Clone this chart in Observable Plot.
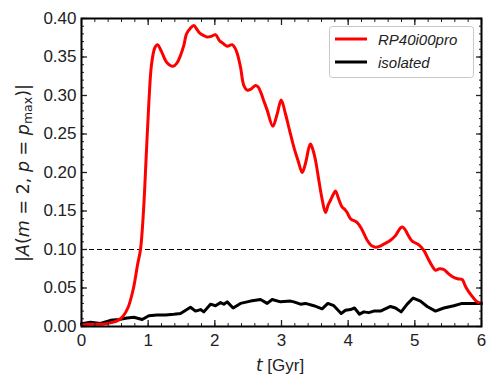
<!DOCTYPE html>
<html>
<head>
<meta charset="utf-8">
<script src="https://cdn.jsdelivr.net/npm/d3@7"></script>
<script src="https://cdn.jsdelivr.net/npm/@observablehq/plot@0.6"></script>
<style>
  html, body { margin: 0; padding: 0; background: white; }
</style>
</head>
<body>
<div id="chart"></div>
<script>
// ---- data ----
const seriesNames = ["RP40i00pro", "isolated"];
const seriesColors = ["#ff0000", "#000000"];

const redT = [0,0.15,0.3,0.45,0.55,0.62,0.7,0.78,0.84,0.885,0.93,0.97,1.01,1.05,1.1,1.14,1.2,1.28,1.375,1.43,1.485,1.535,1.575,1.63,1.685,1.73,1.775,1.83,1.885,1.95,2.01,2.07,2.12,2.185,2.26,2.3,2.335,2.385,2.435,2.485,2.535,2.61,2.65,2.685,2.735,2.785,2.87,2.935,2.995,3.06,3.12,3.185,3.25,3.31,3.36,3.41,3.435,3.47,3.51,3.56,3.61,3.66,3.7,3.735,3.78,3.81,3.86,3.91,3.95,3.985,4.035,4.135,4.2,4.285,4.35,4.41,4.47,4.535,4.6,4.635,4.71,4.785,4.82,4.86,4.91,4.96,5.06,5.135,5.2,5.25,5.31,5.37,5.435,5.5,5.56,5.64,5.71,5.76,5.81,5.88,5.935,6.0];
const redV = [0.002,0.003,0.003,0.005,0.008,0.013,0.025,0.05,0.08,0.10,0.15,0.22,0.29,0.34,0.362,0.366,0.357,0.343,0.338,0.342,0.352,0.365,0.38,0.387,0.391,0.386,0.381,0.378,0.376,0.377,0.379,0.371,0.368,0.364,0.366,0.362,0.355,0.337,0.313,0.307,0.308,0.313,0.311,0.305,0.293,0.281,0.260,0.276,0.294,0.276,0.255,0.233,0.215,0.200,0.212,0.232,0.237,0.230,0.216,0.190,0.165,0.148,0.158,0.164,0.172,0.176,0.165,0.155,0.152,0.148,0.140,0.135,0.127,0.112,0.105,0.103,0.104,0.107,0.110,0.112,0.118,0.128,0.129,0.125,0.117,0.111,0.106,0.099,0.088,0.080,0.073,0.075,0.074,0.069,0.065,0.062,0.061,0.052,0.045,0.037,0.032,0.030];

const blackT = [0,0.135,0.285,0.435,0.56,0.685,0.785,0.91,1.01,1.135,1.26,1.385,1.485,1.635,1.71,1.785,1.835,1.935,2.01,2.085,2.135,2.185,2.275,2.385,2.535,2.685,2.785,2.86,2.985,3.135,3.185,3.285,3.36,3.485,3.61,3.695,3.785,3.895,3.96,4.035,4.095,4.17,4.235,4.31,4.385,4.485,4.635,4.71,4.795,4.885,4.975,5.085,5.185,5.31,5.435,5.585,5.71,5.86,5.96,6.0];
const blackV = [0.0035,0.0056,0.004,0.008,0.009,0.011,0.012,0.009,0.014,0.015,0.015,0.016,0.017,0.025,0.020,0.022,0.019,0.029,0.027,0.031,0.029,0.032,0.024,0.030,0.033,0.035,0.030,0.035,0.032,0.033,0.032,0.029,0.030,0.027,0.023,0.030,0.027,0.017,0.021,0.022,0.024,0.016,0.019,0.018,0.020,0.020,0.026,0.024,0.019,0.029,0.037,0.033,0.026,0.020,0.024,0.027,0.030,0.030,0.030,0.030];

const threshold = 0.10;
const xMajor = [0,1,2,3,4,5,6];
const xMinor = d3.range(0, 6.0001, 0.2).map(d => +d.toFixed(1));
const yMajor = [0,0.05,0.10,0.15,0.20,0.25,0.30,0.35,0.40];
const yMinor = d3.range(0, 0.40001, 0.01).map(d => +d.toFixed(2));

const red = redT.map((t, i) => ({t, v: redV[i]}));
const black = blackT.map((t, i) => ({t, v: blackV[i]}));

const font = "'Liberation Sans', Arial, Helvetica, sans-serif";
const mathFont = "'DejaVu Sans', sans-serif";

// inward ticks on all four sides (drawn outward, then shifted inside by their length)
const tickAxes = [];
for (const [ticks, len, sw] of [[xMinor, 3, 1], [xMajor, 6, 1.3]]) {
  tickAxes.push(Plot.axisX({anchor: "bottom", ticks, tickSize: len, dy: -len, tickFormat: () => "", label: null, strokeWidth: sw}));
  tickAxes.push(Plot.axisX({anchor: "top", ticks, tickSize: len, dy: len, tickFormat: () => "", label: null, strokeWidth: sw}));
}
for (const [ticks, len, sw] of [[yMinor, 3, 1], [yMajor, 6, 1.3]]) {
  tickAxes.push(Plot.axisY({anchor: "left", ticks, tickSize: len, dx: len, tickFormat: () => "", label: null, strokeWidth: sw}));
  tickAxes.push(Plot.axisY({anchor: "right", ticks, tickSize: len, dx: -len, tickFormat: () => "", label: null, strokeWidth: sw}));
}

const chart = Plot.plot({
  width: 498,
  height: 387,
  marginLeft: 81,
  marginRight: 17,
  marginTop: 18,
  marginBottom: 61,
  x: {domain: [0, 6]},
  y: {domain: [0, 0.4]},
  style: {fontFamily: font, fontSize: "17px", color: "#222", background: "white", overflow: "visible"},
  marks: [
    Plot.ruleY([threshold], {stroke: "black", strokeWidth: 1.2, strokeDasharray: "5,3"}),
    Plot.line(black, {x: "t", y: "v", stroke: seriesColors[1], strokeWidth: 3, curve: "linear"}),
    Plot.line(red, {x: "t", y: "v", stroke: seriesColors[0], strokeWidth: 3, curve: "catmull-rom"}),
    Plot.axisX({ticks: xMajor, tickSize: 0, tickPadding: 7, tickFormat: d => String(d), label: null, fontSize: 17}),
    Plot.axisY({ticks: yMajor, tickSize: 0, tickPadding: 5, tickFormat: d => d.toFixed(2), label: null, fontSize: 17}),
    ...tickAxes,
    Plot.frame({stroke: "black", strokeWidth: 2})
  ]
});

document.getElementById("chart").appendChild(chart);

const svg = d3.select(chart);

// x-axis label
const xl = svg.append("text")
  .attr("x", 280).attr("y", 371)
  .attr("text-anchor", "middle")
  .attr("font-family", font).attr("font-size", 17).attr("fill", "#222");
xl.append("tspan").attr("font-family", mathFont).attr("font-style", "italic").text("t");
xl.append("tspan").text(" [Gyr]");

// y-axis label
const yl = svg.append("text")
  .attr("transform", "translate(29,173) rotate(-90)")
  .attr("text-anchor", "middle")
  .attr("font-family", mathFont).attr("font-size", 17.5).attr("fill", "#222");
yl.append("tspan").text("|");
yl.append("tspan").attr("font-style", "italic").text("A");
yl.append("tspan").text("(");
yl.append("tspan").attr("font-style", "italic").text("m");
yl.append("tspan").text(" = 2, ");
yl.append("tspan").attr("font-style", "italic").text("p");
yl.append("tspan").text(" = ");
yl.append("tspan").attr("font-style", "italic").text("p");
yl.append("tspan").attr("font-size", 12.5).attr("dy", 3).text("max");
yl.append("tspan").attr("dy", -3).text(")|");

// legend
const lg = svg.append("g").attr("font-family", font).attr("text-anchor", "start");
lg.append("rect").attr("x", 329.5).attr("y", 26.5).attr("width", 144).attr("height", 51)
  .attr("rx", 3).attr("fill", "white").attr("fill-opacity", 0.85)
  .attr("stroke", "#c8c8c8").attr("stroke-width", 1);
seriesNames.forEach((name, i) => {
  const y = 39 + i * 23;
  lg.append("line").attr("x1", 335).attr("x2", 367).attr("y1", y).attr("y2", y)
    .attr("stroke", seriesColors[i]).attr("stroke-width", 3);
  lg.append("text").attr("x", 378).attr("y", y + 5.5).attr("text-anchor", "start")
    .attr("font-size", 15).attr("font-style", "italic").attr("fill", "#222").text(name);
});
</script>
</body>
</html>
